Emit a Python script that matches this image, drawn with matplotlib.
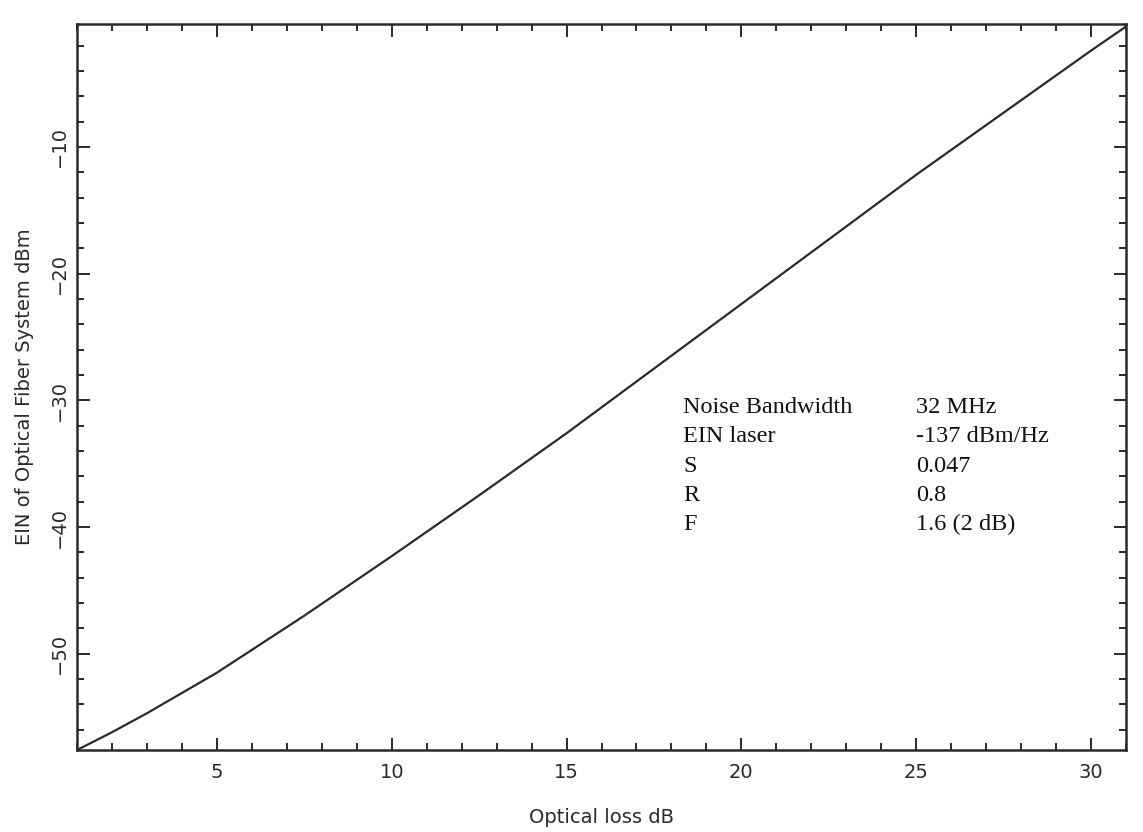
import matplotlib
matplotlib.use("Agg")
import matplotlib.pyplot as plt
from matplotlib.ticker import MultipleLocator

# Data
optical_loss_db = [1, 2, 3, 4, 5, 7.5, 10, 12.5, 15, 17.5, 20, 22.5, 25, 27.5, 30, 31]
ein_dbm = [-57.6, -56.2, -54.7, -53.1, -51.5, -47.0, -42.3, -37.5, -32.6, -27.5,
           -22.4, -17.3, -12.2, -7.3, -2.4, -0.5]

param_names = ["Noise Bandwidth", "EIN laser", "S", "R", "F"]
param_values = ["32 MHz", "-137 dBm/Hz", "0.047", "0.8", "1.6 (2 dB)"]

x_label = "Optical loss dB"
y_label = "EIN of Optical Fiber System dBm"

ink = "#2a2a2a"

fig = plt.figure(figsize=(11.43, 8.32), dpi=100)
ax = fig.add_axes([77 / 1143, 82 / 832, 1049 / 1143, 726 / 832])

ax.plot(optical_loss_db, ein_dbm, color=ink, lw=1.6)

ax.set_xlim(1, 31)
ax.set_ylim(-57.6, -0.3)

ax.xaxis.set_major_locator(MultipleLocator(5))
ax.xaxis.set_minor_locator(MultipleLocator(1))
ax.yaxis.set_major_locator(MultipleLocator(10))
ax.yaxis.set_minor_locator(MultipleLocator(2))

ax.tick_params(which="both", direction="in", top=True, right=True,
               color=ink, width=1.4)
ax.tick_params(which="major", length=9)
ax.tick_params(which="minor", length=5)
ax.tick_params(axis="x", which="major", pad=9, labelsize=14, labelcolor=ink)
ax.tick_params(axis="y", which="major", pad=6, labelsize=14, labelcolor=ink)
for lbl in ax.get_yticklabels():
    lbl.set_rotation(90)
    lbl.set_va("center")

for s in ax.spines.values():
    s.set_linewidth(1.8)
    s.set_color(ink)

ax.set_xlabel(x_label, fontsize=14, color=ink, labelpad=19)
ax.set_ylabel(y_label, fontsize=14, color=ink, labelpad=11)

y_positions = [0.472, 0.4325, 0.391, 0.35, 0.311]
for name, val, yp in zip(param_names, param_values, y_positions):
    ax.text(0.578, yp, name, transform=ax.transAxes, va="center", ha="left",
            fontsize=17.5, family="Liberation Serif", color="#111111")
    ax.text(0.80, yp, val, transform=ax.transAxes, va="center", ha="left",
            fontsize=17.5, family="Liberation Serif", color="#111111")

fig.savefig("out.png", dpi=100, facecolor="white")
